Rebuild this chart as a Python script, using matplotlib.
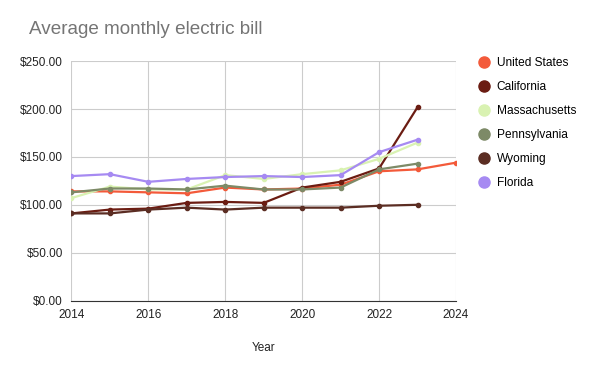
import matplotlib.pyplot as plt
from matplotlib.lines import Line2D
from matplotlib.ticker import FuncFormatter

plt.rcParams['font.family'] = ['Liberation Sans', 'DejaVu Sans']

years = list(range(2014, 2025))
united_states = [114, 114, 113, 112, 118, 116, 117, 121, 135, 137, 144]
california = [91, 95, 96, 102, 103, 102, 118, 124, 138, 202]
massachusetts = [107, 119, 116, 116, 131, 127, 132, 136, 148, 165]
pennsylvania = [113, 117, 117, 116, 120, 116, 116, 118, 137, 143]
wyoming = [91, 91, 95, 97, 95, 97, 97, 97, 99, 100]
florida = [130, 132, 124, 127, 129, 130, 129, 131, 155, 168]

names = ["United States", "California", "Massachusetts", "Pennsylvania", "Wyoming", "Florida"]
series = [united_states, california, massachusetts, pennsylvania, wyoming, florida]
colors = ["#f35a3a", "#6b1c12", "#d9f2b2", "#7d8a67", "#5b2d23", "#a68af2"]

fig = plt.figure(figsize=(6, 3.71), dpi=100)
ax = fig.add_axes([0.119, 0.19, 0.641, 0.645])

# draw back to front so Florida ends on top
for vals, c in zip(series, colors):
    ax.plot(years[:len(vals)], vals, color=c, lw=1.6, marker="o", ms=3, zorder=3)

ax.set_xlim(2014, 2024)
ax.set_ylim(0, 250)
ax.set_xticks(range(2014, 2025, 2))
ax.set_yticks(range(0, 251, 50))
ax.yaxis.set_major_formatter(FuncFormatter(lambda v, p: "${:.2f}".format(v)))
ax.grid(True, color="#cccccc", lw=0.8)
ax.set_axisbelow(True)
for s in ["top", "right", "left"]:
    ax.spines[s].set_visible(False)
ax.spines["bottom"].set_color("#333333")
ax.tick_params(length=0, labelsize=8.5, colors="#222222")
ax.tick_params(axis="y", pad=6)
ax.tick_params(axis="x", pad=6)
ax.set_xlabel("Year", fontsize=8.5, color="#222222", labelpad=15)

fig.text(0.048, 0.92, "Average monthly electric bill", fontsize=13.6, color="#757575", va="center")

handles = [Line2D([], [], ls="none", marker="o", ms=8, color=c) for c in colors]
fig.legend(handles, names, loc="upper left", bbox_to_anchor=(0.778, 0.875), frameon=False,
           fontsize=8.6, labelspacing=1.0, handletextpad=0.6, handlelength=1)

fig.savefig("out.png", dpi=100)
